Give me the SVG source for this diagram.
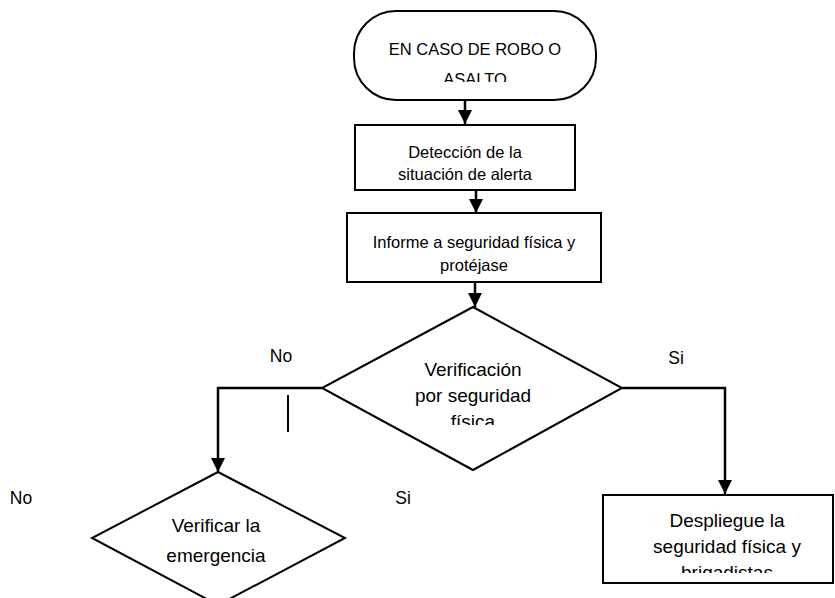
<svg xmlns="http://www.w3.org/2000/svg" width="835" height="598" viewBox="0 0 835 598">
<style>
.shape{fill:#fff;stroke:#000;stroke-width:2}
.t{font-family:"Liberation Sans",Arial,sans-serif;fill:#000;text-anchor:middle}
.s16{font-size:16.5px}
.s19{font-size:19px}
.lbl{font-family:"Liberation Sans",Arial,sans-serif;font-size:17.5px;fill:#000;text-anchor:middle}
.c{fill:none;stroke:#000;stroke-width:2.5}
</style>
<defs>
<marker id="ah" markerUnits="userSpaceOnUse" markerWidth="14" markerHeight="14" viewBox="0 0 10 10" refX="10" refY="5" orient="auto">
<path d="M0,0 L10,5 L0,10 z" fill="#000"/>
</marker>
<clipPath id="cp1"><rect x="340" y="0" width="280" height="82"/></clipPath>
<clipPath id="cp2"><rect x="300" y="300" width="340" height="125"/></clipPath>
<clipPath id="cp3"><rect x="600" y="490" width="235" height="83"/></clipPath>
</defs>
<g id="start">
<rect class="shape" x="354" y="11" width="242" height="89" rx="42" ry="42"/>
<g clip-path="url(#cp1)">
<text class="t s16" x="475" y="55">EN CASO DE ROBO O</text>
<text class="t s16" x="475" y="85">ASALTO</text>
</g>
</g>
<g id="deteccion">
<rect class="shape" x="355" y="125" width="220" height="65"/>
<text class="t s16" x="465" y="158">Detección de la</text>
<text class="t s16" x="465" y="180">situación de alerta</text>
</g>
<g id="informe">
<rect class="shape" x="347" y="213" width="254" height="69"/>
<text class="t s16" x="474" y="248">Informe a seguridad física y</text>
<text class="t s16" x="474" y="271">protéjase</text>
</g>
<g id="verificacion">
<polygon class="shape" points="473,307 622,388 473,470 322,388"/>
<g clip-path="url(#cp2)">
<text class="t s19" x="473" y="376">Verificación</text>
<text class="t s19" x="473" y="402">por seguridad</text>
<text class="t s19" x="473" y="428">física</text>
</g>
</g>
<g id="verificar">
<polygon class="shape" points="218,472 345,538 218,605 92,538"/>
<text class="t s19" x="216" y="532">Verificar la</text>
<text class="t s19" x="216" y="562">emergencia</text>
</g>
<g id="despliegue">
<rect class="shape" x="603" y="495" width="230" height="88"/>
<g clip-path="url(#cp3)">
<text class="t s19" x="727" y="527">Despliegue la</text>
<text class="t s19" x="727" y="553">seguridad física y</text>
<text class="t s19" x="727" y="579">brigadistas</text>
</g>
</g>
<g id="connectors">
<line class="c" x1="465" y1="100" x2="465" y2="124" marker-end="url(#ah)"/>
<line class="c" x1="476" y1="190" x2="476" y2="213" marker-end="url(#ah)"/>
<line class="c" x1="475" y1="282" x2="475" y2="307" marker-end="url(#ah)"/>
<polyline class="c" points="322,388 218,388 218,472" marker-end="url(#ah)"/>
<polyline class="c" points="622,388 725,388 725,494" marker-end="url(#ah)"/>
<line x1="288" y1="395" x2="288" y2="432" stroke="#000" stroke-width="2"/>
</g>
<g id="labels">
<text class="lbl" x="281" y="362">No</text>
<text class="lbl" x="676" y="364">Si</text>
<text class="lbl" x="21" y="504">No</text>
<text class="lbl" x="403" y="504">Si</text>
</g>
</svg>
